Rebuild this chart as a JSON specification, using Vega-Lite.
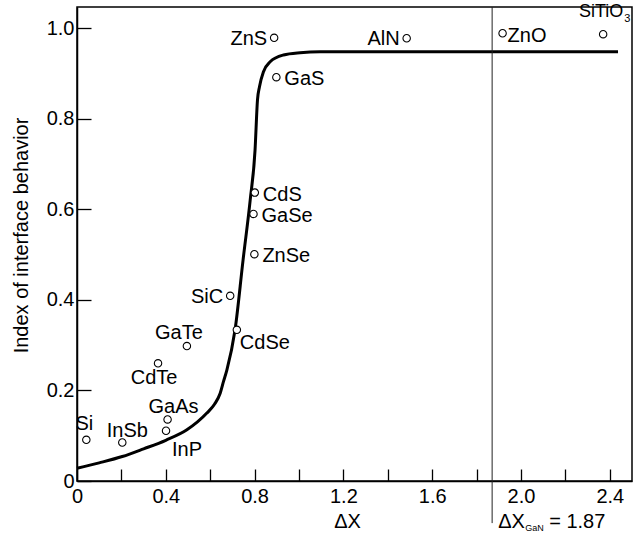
{
  "$schema": "https://vega.github.io/schema/vega-lite/v6.json",
  "width": 555,
  "height": 474,
  "autosize": {"type": "none"},
  "padding": {"left": 77, "top": 7, "right": 5, "bottom": 57},
  "background": "white",
  "config": {
    "view": {"stroke": "black", "strokeWidth": 1.5},
    "axis": {
      "domainColor": "black", "domainWidth": 1.5,
      "tickColor": "black", "tickWidth": 1.3,
      "labelColor": "black", "labelFont": "Liberation Sans", "labelFontSize": 20,
      "titleColor": "black", "titleFont": "Liberation Sans", "titleFontSize": 20, "titleFontWeight": "normal",
      "grid": false, "labelFlush": false, "labelOverlap": false, "labelBound": false
    }
  },
  "datasets": {
    "curve": [
      {"x": 0.0, "y": 0.028}, {"x": 0.1, "y": 0.040}, {"x": 0.204, "y": 0.054}, {"x": 0.3, "y": 0.071},
      {"x": 0.40, "y": 0.090}, {"x": 0.495, "y": 0.113}, {"x": 0.585, "y": 0.150}, {"x": 0.62, "y": 0.170},
      {"x": 0.645, "y": 0.194}, {"x": 0.66, "y": 0.220}, {"x": 0.675, "y": 0.245}, {"x": 0.712, "y": 0.334},
      {"x": 0.748, "y": 0.488}, {"x": 0.78, "y": 0.620}, {"x": 0.802, "y": 0.731}, {"x": 0.813, "y": 0.842},
      {"x": 0.822, "y": 0.871}, {"x": 0.84, "y": 0.904}, {"x": 0.87, "y": 0.926}, {"x": 0.93, "y": 0.941},
      {"x": 1.005, "y": 0.946}, {"x": 1.095, "y": 0.948}, {"x": 2.437, "y": 0.948}
    ],
    "materials": [
      {"name": "ZnS", "x": 0.888, "y": 0.979},
      {"name": "GaS", "x": 0.898, "y": 0.892},
      {"name": "CdS", "x": 0.801, "y": 0.637},
      {"name": "GaSe", "x": 0.795, "y": 0.590},
      {"name": "ZnSe", "x": 0.799, "y": 0.501},
      {"name": "AlN", "x": 1.485, "y": 0.978},
      {"name": "ZnO", "x": 1.917, "y": 0.989},
      {"name": "SiTiO3", "x": 2.370, "y": 0.987},
      {"name": "SiC", "x": 0.690, "y": 0.409},
      {"name": "CdSe", "x": 0.720, "y": 0.334},
      {"name": "GaTe", "x": 0.495, "y": 0.298},
      {"name": "CdTe", "x": 0.365, "y": 0.260},
      {"name": "GaAs", "x": 0.408, "y": 0.136},
      {"name": "InP", "x": 0.401, "y": 0.111},
      {"name": "Si", "x": 0.042, "y": 0.091},
      {"name": "InSb", "x": 0.204, "y": 0.085}
    ],
    "gan": [{"x": 1.87}]
  },
  "layer": [
    {
      "data": {"name": "curve"},
      "mark": {"type": "line", "color": "black", "strokeWidth": 3, "interpolate": "monotone"},
      "encoding": {
        "x": {"field": "x", "type": "quantitative", "title": "ΔX",
          "scale": {"domain": [0, 2.5], "nice": false, "zero": false},
          "axis": {"values": [0, 0.2, 0.4, 0.6, 0.8, 1.0, 1.2, 1.4, 1.6, 1.8, 2.0, 2.2, 2.4],
            "labelExpr": "round(datum.value*10) % 4 == 0 ? (datum.value == 0 ? '0' : format(datum.value, '.1f')) : ''",
            "tickSize": -12, "labelPadding": 17.5,
            "titleX": 270, "titleY": 46, "titleBaseline": "alphabetic", "titleAlign": "center"}},
        "y": {"field": "y", "type": "quantitative", "title": "Index of interface behavior",
          "scale": {"domain": [0, 1.047], "nice": false},
          "axis": {"values": [0, 0.2, 0.4, 0.6, 0.8, 1.0],
            "labelExpr": "datum.value == 0 ? '0' : format(datum.value, '.1f')",
            "tickSize": -14, "labelPadding": 17,
            "titleX": -50, "titleY": 228, "titleAngle": -90, "titleBaseline": "alphabetic", "titleAlign": "center"}}
      }
    },
    {
      "data": {"name": "gan"},
      "mark": {"type": "rule", "color": "#222222", "strokeWidth": 1},
      "encoding": {
        "x": {"field": "x", "type": "quantitative", "title": "ΔX"},
        "y": {"datum": -0.093, "type": "quantitative"},
        "y2": {"datum": 1.047}
      }
    },
    {
      "data": {"name": "gan"},
      "encoding": {
        "x": {"field": "x", "type": "quantitative", "title": "ΔX"},
        "y": {"datum": 0, "type": "quantitative"}
      },
      "layer": [
        {"mark": {"type": "text", "text": "ΔX", "align": "left", "baseline": "alphabetic", "dx": 6, "dy": 47, "font": "Liberation Sans", "fontSize": 20, "color": "black"}},
        {"mark": {"type": "text", "text": "GaN", "align": "left", "baseline": "alphabetic", "dx": 33, "dy": 50, "font": "Liberation Sans", "fontSize": 9, "color": "black"}},
        {"mark": {"type": "text", "text": "= 1.87", "align": "left", "baseline": "alphabetic", "dx": 57, "dy": 47, "font": "Liberation Sans", "fontSize": 20, "color": "black"}}
      ]
    },
    {
      "data": {"name": "materials"},
      "encoding": {
        "x": {"field": "x", "type": "quantitative", "title": "ΔX"},
        "y": {"field": "y", "type": "quantitative", "title": "Index of interface behavior"}
      },
      "layer": [
        {"mark": {"type": "point", "shape": "circle", "filled": true, "fill": "white", "stroke": "black", "strokeWidth": 1.1, "size": 55, "opacity": 1}},
        {"transform": [{"filter": "indexof(['ZnS','AlN','SiC'], datum.name) >= 0"}],
         "mark": {"type": "text", "align": "right", "baseline": "middle", "dx": -7, "dy": 1, "font": "Liberation Sans", "fontSize": 20, "color": "black"},
         "encoding": {"text": {"field": "name"}}},
        {"transform": [{"filter": "indexof(['GaS','CdS','GaSe','ZnSe'], datum.name) >= 0"}],
         "mark": {"type": "text", "align": "left", "baseline": "middle", "dx": 8, "dy": 2, "font": "Liberation Sans", "fontSize": 20, "color": "black"},
         "encoding": {"text": {"field": "name"}}},
        {"transform": [{"filter": "datum.name == 'ZnO'"}],
         "mark": {"type": "text", "align": "left", "baseline": "middle", "dx": 5, "dy": 3, "font": "Liberation Sans", "fontSize": 20, "color": "black"},
         "encoding": {"text": {"field": "name"}}},
        {"transform": [{"filter": "datum.name == 'CdSe'"}],
         "mark": {"type": "text", "align": "left", "baseline": "middle", "dx": 3, "dy": 13, "font": "Liberation Sans", "fontSize": 20, "color": "black"},
         "encoding": {"text": {"field": "name"}}},
        {"transform": [{"filter": "datum.name == 'GaTe'"}],
         "mark": {"type": "text", "align": "center", "baseline": "middle", "dx": -8, "dy": -13, "font": "Liberation Sans", "fontSize": 20, "color": "black"},
         "encoding": {"text": {"field": "name"}}},
        {"transform": [{"filter": "datum.name == 'GaAs'"}],
         "mark": {"type": "text", "align": "center", "baseline": "middle", "dx": 6, "dy": -12, "font": "Liberation Sans", "fontSize": 20, "color": "black"},
         "encoding": {"text": {"field": "name"}}},
        {"transform": [{"filter": "datum.name == 'Si'"}],
         "mark": {"type": "text", "align": "center", "baseline": "middle", "dx": -2, "dy": -16, "font": "Liberation Sans", "fontSize": 20, "color": "black"},
         "encoding": {"text": {"field": "name"}}},
        {"transform": [{"filter": "datum.name == 'InSb'"}],
         "mark": {"type": "text", "align": "center", "baseline": "middle", "dx": 5, "dy": -12, "font": "Liberation Sans", "fontSize": 20, "color": "black"},
         "encoding": {"text": {"field": "name"}}},
        {"transform": [{"filter": "datum.name == 'CdTe'"}],
         "mark": {"type": "text", "align": "center", "baseline": "middle", "dx": -4, "dy": 15, "font": "Liberation Sans", "fontSize": 20, "color": "black"},
         "encoding": {"text": {"field": "name"}}},
        {"transform": [{"filter": "datum.name == 'InP'"}],
         "mark": {"type": "text", "align": "left", "baseline": "middle", "dx": 6, "dy": 19, "font": "Liberation Sans", "fontSize": 20, "color": "black"},
         "encoding": {"text": {"field": "name"}}},
        {"transform": [{"filter": "datum.name == 'SiTiO3'"}],
         "mark": {"type": "text", "align": "center", "baseline": "middle", "dx": -2, "dy": -22, "font": "Liberation Sans", "fontSize": 18, "color": "black"},
         "encoding": {"text": {"value": "SiTiO"}}},
        {"transform": [{"filter": "datum.name == 'SiTiO3'"}],
         "mark": {"type": "text", "align": "left", "baseline": "alphabetic", "dx": 21, "dy": -12, "font": "Liberation Sans", "fontSize": 11, "color": "black"},
         "encoding": {"text": {"value": "3"}}}
      ]
    }
  ]
}
